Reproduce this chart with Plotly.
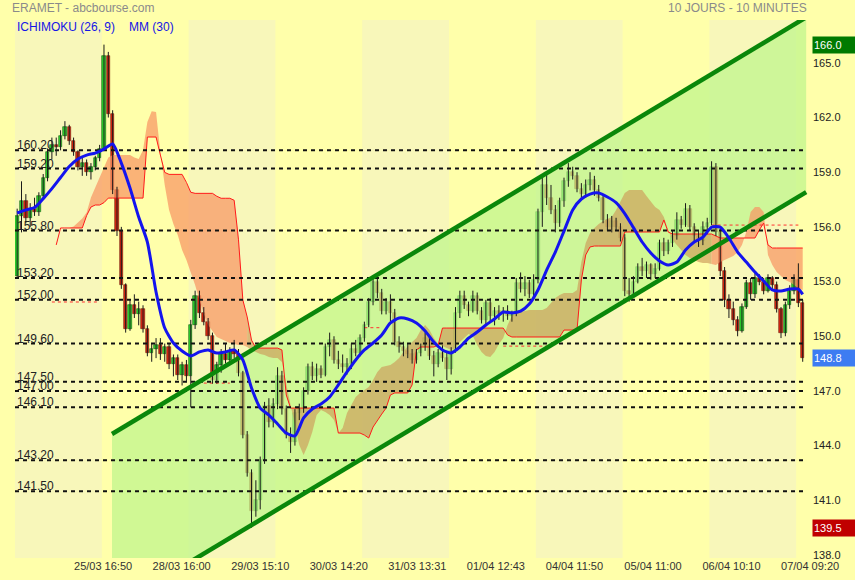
import plotly.graph_objects as go

# ---------------- data ----------------
x_tick_labels = ["25/03 16:50", "28/03 16:00", "29/03 15:10", "30/03 14:20", "31/03 13:31",
                 "01/04 12:43", "04/04 11:50", "05/04 11:00", "06/04 10:10", "07/04 09:20"]

opens = [153.3, 156.6, 157.4, 156.5, 157.0, 156.8, 157.7, 158.7, 160.1, 160.5,
         160.4, 161.0, 161.5, 160.7, 160.1, 159.3, 159.5, 159.0, 159.3, 159.8,
         160.3, 165.4, 162.2, 158.0, 155.8, 152.8, 150.4, 151.7, 151.2, 151.5,
         150.4, 149.1, 149.3, 149.5, 149.0, 149.4, 148.5, 148.8, 147.9, 148.4,
         147.8, 150.6, 152.2, 151.3, 150.8, 150.0, 147.6, 148.4, 149.0, 148.7,
         149.2, 149.0, 148.0, 144.6, 142.5, 140.4, 141.0, 143.2, 146.2, 145.3,
         146.3, 147.8, 146.0, 144.6, 144.2, 145.8, 146.0, 147.0, 148.3, 147.8,
         148.2, 147.9, 149.4, 149.8, 148.7, 148.5, 148.3, 148.5, 149.3, 149.1,
         149.9, 150.6, 151.9, 153.0, 152.4, 151.4, 151.9, 151.3, 149.7, 149.4,
         149.2, 149.0, 148.7, 149.1, 149.4, 149.9, 148.9, 148.5, 149.1, 148.8,
         148.2, 149.2, 151.3, 152.2, 151.7, 151.4, 152.2, 151.4, 150.9, 151.8,
         151.1, 151.4, 151.2, 151.4, 151.1, 151.3, 152.9, 152.6, 152.9, 152.3,
         153.1, 156.8, 158.3, 157.6, 156.9, 156.2, 157.4, 158.5, 159.0, 158.8,
         158.1, 157.8, 158.3, 158.6, 158.0, 157.6, 156.4, 156.0, 156.3, 156.0,
         155.4, 152.5, 152.3, 153.0, 153.8, 153.6, 153.9, 153.4, 153.7, 155.1,
         154.7, 155.1, 155.5, 156.4, 156.1, 157.0, 156.0, 155.5, 155.2, 156.0,
         156.2, 159.3, 155.7, 153.6, 152.0, 151.5, 150.9, 150.3, 151.6, 152.9,
         152.3, 153.2, 153.0, 152.5, 153.2, 152.8, 151.5, 150.2, 151.7, 152.5,
         153.1, 151.8]
highs = [157.0, 158.5, 157.8, 157.3, 157.6, 157.9, 158.9, 160.3, 160.9, 160.9,
         161.3, 161.8, 161.6, 160.9, 160.2, 159.8, 159.7, 159.5, 159.9, 160.5,
         166.0, 165.6, 162.4, 158.2, 156.0, 152.9, 152.0, 152.3, 151.9, 151.7,
         150.6, 149.6, 149.9, 149.9, 149.6, 149.6, 149.0, 149.0, 148.6, 148.7,
         150.9, 152.5, 152.5, 151.6, 151.0, 150.2, 148.6, 149.3, 149.6, 149.4,
         149.8, 149.3, 148.1, 144.8, 142.7, 142.1, 143.4, 146.4, 146.6, 146.6,
         148.3, 148.1, 146.2, 145.0, 146.0, 146.3, 147.2, 148.5, 148.6, 148.5,
         148.4, 149.6, 150.2, 150.0, 149.2, 149.0, 148.8, 149.6, 149.8, 150.1,
         150.8, 152.1, 153.3, 153.2, 152.6, 152.1, 152.3, 151.5, 150.0, 149.7,
         149.6, 149.3, 149.3, 149.6, 150.2, 150.0, 149.2, 149.3, 149.5, 149.1,
         149.4, 151.6, 152.5, 152.5, 151.9, 152.5, 152.4, 151.6, 152.0, 152.1,
         151.6, 151.7, 151.6, 151.7, 151.4, 153.2, 153.5, 153.3, 153.1, 153.4,
         157.0, 158.9, 159.0, 158.3, 157.2, 157.6, 158.7, 159.5, 159.3, 159.0,
         158.4, 158.6, 159.0, 158.8, 158.3, 157.8, 156.7, 156.6, 156.5, 156.2,
         155.6, 153.2, 153.3, 154.0, 154.3, 154.1, 154.0, 154.0, 155.3, 155.4,
         155.3, 155.8, 156.8, 156.6, 157.3, 157.2, 156.2, 155.8, 156.3, 156.5,
         159.6, 159.5, 155.9, 153.8, 152.3, 151.9, 151.1, 151.8, 153.1, 153.2,
         153.5, 153.4, 153.2, 153.4, 153.3, 153.0, 151.6, 151.9, 152.8, 153.4,
         154.0, 152.0]
lows = [153.2, 155.7, 156.2, 156.0, 156.6, 156.6, 157.5, 158.5, 159.7, 159.9,
        160.2, 160.8, 160.5, 159.9, 159.1, 158.8, 158.8, 158.6, 159.1, 159.6,
        160.2, 162.0, 157.8, 155.5, 152.6, 150.2, 150.3, 151.0, 150.6, 150.2,
        148.9, 148.6, 148.8, 148.7, 148.6, 148.2, 147.8, 147.6, 147.3, 147.5,
        146.1, 150.4, 151.0, 150.6, 149.8, 147.4, 147.4, 148.0, 148.5, 148.5,
        148.8, 147.8, 144.4, 142.3, 139.5, 140.1, 140.5, 143.0, 145.0, 145.0,
        146.0, 145.7, 144.4, 143.6, 144.0, 145.4, 145.8, 146.8, 147.6, 147.5,
        147.7, 147.8, 148.9, 148.5, 148.2, 148.0, 147.9, 148.2, 148.9, 148.9,
        149.7, 150.5, 151.7, 152.1, 151.2, 151.2, 150.8, 149.5, 149.1, 148.9,
        148.8, 148.5, 148.5, 148.9, 149.2, 148.7, 147.8, 148.3, 148.6, 147.6,
        147.9, 149.1, 151.0, 151.5, 151.1, 151.3, 151.2, 150.7, 150.6, 150.8,
        150.6, 150.9, 150.8, 150.9, 150.8, 151.1, 152.4, 152.2, 152.1, 152.1,
        152.9, 156.0, 157.2, 156.7, 155.7, 156.0, 157.1, 158.2, 158.6, 157.9,
        157.6, 157.6, 158.0, 157.7, 157.4, 156.2, 155.8, 155.7, 155.8, 155.2,
        152.2, 151.9, 152.1, 152.9, 153.3, 153.2, 153.1, 153.2, 153.6, 154.4,
        154.5, 154.9, 155.3, 155.9, 156.0, 155.8, 155.2, 154.9, 155.0, 155.6,
        156.1, 155.5, 153.3, 151.6, 151.0, 150.6, 150.0, 150.2, 151.5, 152.0,
        152.1, 152.8, 152.3, 152.4, 152.6, 151.3, 149.9, 150.0, 151.5, 152.3,
        151.6, 148.6]
closes = [156.6, 157.4, 156.5, 157.0, 156.8, 157.7, 158.7, 160.1, 160.5, 160.4,
          161.0, 161.5, 160.7, 160.1, 159.3, 159.5, 159.0, 159.3, 159.8, 160.3,
          165.4, 162.2, 158.0, 155.8, 152.8, 150.4, 151.7, 151.2, 151.5, 150.4,
          149.1, 149.3, 149.5, 149.0, 149.4, 148.5, 148.8, 147.9, 148.4, 147.8,
          150.6, 152.2, 151.3, 150.8, 150.0, 147.6, 148.4, 149.0, 148.7, 149.2,
          149.0, 148.0, 144.6, 142.5, 140.4, 141.0, 143.2, 146.2, 145.3, 146.3,
          147.8, 146.0, 144.6, 144.2, 145.8, 146.0, 147.0, 148.3, 147.8, 148.2,
          147.9, 149.4, 149.8, 148.7, 148.5, 148.3, 148.5, 149.3, 149.1, 149.9,
          150.6, 151.9, 153.0, 152.4, 151.4, 151.9, 151.3, 149.7, 149.4, 149.2,
          149.0, 148.7, 149.1, 149.4, 149.9, 148.9, 148.5, 149.1, 148.8, 148.2,
          149.2, 151.3, 152.2, 151.7, 151.4, 152.2, 151.4, 150.9, 151.8, 151.1,
          151.4, 151.2, 151.4, 151.1, 151.3, 152.9, 152.6, 152.9, 152.3, 153.1,
          156.8, 158.3, 157.6, 156.9, 156.2, 157.4, 158.5, 159.0, 158.8, 158.1,
          157.8, 158.3, 158.6, 158.0, 157.6, 156.4, 156.0, 156.3, 156.0, 155.4,
          152.5, 152.3, 153.0, 153.8, 153.6, 153.9, 153.4, 153.7, 155.1, 154.7,
          155.1, 155.5, 156.4, 156.1, 157.0, 156.0, 155.5, 155.2, 156.0, 156.2,
          159.3, 155.7, 153.6, 152.0, 151.5, 150.9, 150.3, 151.6, 152.9, 152.3,
          153.2, 153.0, 152.5, 153.2, 152.8, 151.5, 150.2, 151.7, 152.5, 153.1,
          151.8, 148.8]

# moving average MM(30), read every second candle (plus the last one)
ma_values = [156.76, 156.93, 157.06, 157.55, 158.10, 158.71, 159.31, 159.72, 159.94, 160.05,
             160.27, 160.55, 159.50, 158.13, 156.54, 155.17, 152.43, 150.45, 149.63, 149.19,
             148.92, 149.14, 149.25, 149.08, 149.14, 149.25, 148.70, 147.16, 146.06, 145.68,
             145.19, 144.69, 144.53, 145.52, 146.01, 146.28, 146.67, 147.33, 148.04, 148.70,
             149.25, 149.63, 150.07, 150.73, 151.00, 150.95, 150.73, 150.29, 149.68, 149.25,
             149.08, 149.41, 149.90, 150.23, 150.62, 150.95, 151.33, 151.28, 151.38, 151.77,
             152.54, 153.63, 154.62, 155.77, 156.93, 157.53, 157.80, 157.86, 157.64, 157.33,
             156.73, 155.96, 155.17, 154.57, 154.13, 153.91, 154.07, 154.73, 155.17, 155.44,
             155.99, 155.99, 155.39, 154.62, 154.07, 153.52, 153.03, 152.54, 152.48, 152.59,
             152.59, 152.30]

# Ichimoku cloud spans, from candle 9 onward
span_start = 9
span_a = [155.01, 155.94, 155.94, 155.94, 156.02, 156.27, 156.46, 156.79, 157.61, 158.16,
          158.71, 159.20, 159.81, 159.94, 159.94, 159.94, 159.94, 159.94, 159.81, 159.72,
          160.22, 161.75, 162.35, 162.30, 160.05, 158.30, 156.93, 156.16, 155.55, 154.73,
          154.18, 153.52, 152.81, 151.99, 151.22, 150.62, 150.29, 149.96, 149.85, 149.74,
          149.63, 149.57, 149.52, 149.52, 149.41, 149.25, 149.14, 149.03, 148.97, 148.86,
          148.81, 148.81, 148.59, 147.33, 146.23, 145.13, 144.03, 143.49, 144.03, 144.75,
          145.68, 145.95, 145.84, 145.68, 145.41, 144.69, 144.97, 145.79, 146.23, 146.67,
          146.89, 147.05, 147.22, 147.60, 148.04, 148.31, 148.37, 148.42, 148.59, 148.81,
          149.14, 149.46, 149.68, 149.90, 150.34, 150.62, 150.34, 149.90, 149.57, 149.46,
          149.35, 149.25, 149.35, 149.68, 149.90, 150.12, 150.01, 149.52, 149.14, 148.92,
          148.86, 149.14, 149.57, 149.90, 150.62, 151.11, 151.27, 151.33, 151.38, 151.44,
          151.44, 151.44, 151.44, 151.55, 151.82, 152.10, 152.26, 152.37, 152.37, 152.37,
          152.54, 154.07, 155.11, 155.66, 155.94, 156.16, 156.32, 156.43, 156.54, 156.93,
          157.36, 157.86, 158.02, 158.02, 158.02, 158.02, 157.69, 157.36, 157.09, 156.93,
          156.54, 155.83, 155.28, 155.01, 154.73, 154.46, 154.29, 154.18, 154.07, 154.02,
          154.02, 153.96, 153.91, 154.07, 154.18, 154.29, 154.40, 154.62, 155.01, 155.72,
          156.82, 157.09, 157.09, 156.82, 154.46, 153.91, 153.52, 153.30, 153.09, 152.98,
          152.81, 152.65, 152.54]
span_b = [155.01, 155.94, 155.94, 155.94, 155.94, 155.94, 155.94, 156.62, 157.09, 157.20,
          157.20, 157.33, 157.58, 157.58, 157.58, 157.58, 157.58, 157.58, 157.58, 157.58,
          157.58, 160.93, 160.93, 160.93, 159.94, 158.99, 158.88, 158.88, 158.88, 158.88,
          158.44, 157.90, 157.84, 157.84, 157.84, 157.84, 157.84, 157.68, 157.57, 157.57,
          157.57, 157.46, 155.29, 151.99, 151.06, 149.79, 149.35, 149.35, 149.35, 149.35,
          149.35, 149.35, 149.25, 146.78, 146.06, 146.06, 146.06, 146.06, 146.06, 146.06,
          146.06, 146.06, 146.06, 146.06, 146.06, 144.69, 144.69, 144.69, 144.69, 144.69,
          144.69, 144.58, 144.42, 145.02, 145.41, 145.73, 146.06, 146.78, 146.89, 146.89,
          146.89, 146.89, 147.33, 149.25, 149.41, 149.41, 149.41, 149.41, 149.52, 150.45,
          150.45, 150.45, 150.45, 150.45, 150.45, 150.45, 150.45, 150.45, 150.45, 150.45,
          150.45, 150.45, 150.45, 150.45, 150.07, 149.96, 149.96, 149.96, 149.96, 149.96,
          149.96, 149.96, 149.96, 149.96, 149.96, 149.96, 149.96, 150.34, 150.34, 150.34,
          150.34, 153.09, 154.46, 154.90, 154.95, 154.95, 154.95, 154.95, 154.95, 154.95,
          154.95, 155.72, 155.72, 155.72, 155.72, 155.72, 155.72, 155.72, 155.72, 155.72,
          156.38, 155.72, 155.61, 155.61, 155.61, 155.61, 155.61, 155.61, 155.61, 155.61,
          155.61, 155.61, 155.50, 155.39, 155.39, 155.39, 155.39, 155.39, 155.39, 155.39,
          155.39, 155.39, 155.83, 156.21, 155.01, 154.84, 154.84, 154.84, 154.84, 154.84,
          154.84, 154.84, 154.84]
cloud_seg_start = [9, 53, 160]
cloud_seg_end = [53, 160, 181]
cloud_seg_kind = ["bear", "bull", "bear"]

# thin red dashed kijun levels
kijun_levels = [151.88, 147.43, 150.47, 149.46, 156.10]
kijun_from = [8, 43, 80, 112, 160]
kijun_to = [19, 49, 84, 123, 180]

# horizontal support / resistance levels
levels = [160.20, 159.20, 155.80, 153.20, 152.00, 149.60, 147.50, 147.00, 146.10, 143.20, 141.50]

# trend channel anchors (candle index, price)
channel_x = [21.85, 181.8]
channel_upper = [144.64, 167.50]
channel_lower = [135.05, 157.91]

y_ticks = [138.0, 141.0, 144.0, 147.0, 150.0, 153.0, 156.0, 159.0, 162.0, 165.0]
period_high = 166.0
period_low = 139.5
last_price = closes[-1]

# ---------------- layout constants ----------------
CANDLES_PER_DAY = 20
N_DAYS_SHOWN = 10
X_MIN, X_MAX = -0.5, 183.14
PLOT_END = 181.8
Y_MIN, Y_MAX = 137.835, 167.35
TICK_START, TICK_STEP = 19.8, 18.1

PAPER = "#ffffaa"
BAND = "#f8f7ba"
SALMON = "rgba(248,150,100,0.72)"
TAN = "rgba(205,155,90,0.66)"
FONT = "Liberation Sans, Arial, sans-serif"
UP_FILL, UP_EDGE = "#2fd62f", "#0d5a0d"
DN_FILL, DN_EDGE = "#dc2812", "#6a1608"

n = len(closes)
assert len(opens) == n and len(highs) == n and len(lows) == n
assert len(span_a) == len(span_b) == n - span_start
idx = list(range(n))
ma_idx = list(range(0, n - 1, 2)) + [n - 1]
assert len(ma_idx) == len(ma_values)
span_idx = list(range(span_start, n))

fig = go.Figure()

# channel fill
fig.add_trace(go.Scatter(
    x=[channel_x[0], channel_x[1], channel_x[1], channel_x[0]],
    y=[channel_upper[0], channel_upper[1], channel_lower[1], channel_lower[0]],
    fill="toself", fillcolor="rgba(190,245,140,0.72)", line=dict(width=0),
    mode="lines", hoverinfo="skip", showlegend=False))

# ichimoku cloud
for s, e, kind in zip(cloud_seg_start, cloud_seg_end, cloud_seg_kind):
    xs = [i for i in span_idx if s <= i <= e]
    a = [span_a[i - span_start] for i in xs]
    b = [span_b[i - span_start] for i in xs]
    fig.add_trace(go.Scatter(
        x=xs + xs[::-1], y=a + b[::-1], fill="toself",
        fillcolor=SALMON if kind == "bear" else TAN,
        line=dict(width=0), mode="lines", hoverinfo="skip", showlegend=False))

fig.add_trace(go.Scatter(x=span_idx, y=span_b, mode="lines",
                         line=dict(color="#ff1a1a", width=1), hoverinfo="skip", showlegend=False))

# kijun dashed levels
for lv, a0, a1 in zip(kijun_levels, kijun_from, kijun_to):
    fig.add_trace(go.Scatter(x=[a0, a1], y=[lv, lv], mode="lines",
                             line=dict(color="#ff3030", width=1, dash="3px,3px"),
                             hoverinfo="skip", showlegend=False))

# support/resistance dashed lines
for lv in levels:
    fig.add_trace(go.Scatter(x=[X_MIN, PLOT_END], y=[lv, lv], mode="lines",
                             line=dict(color="#111111", width=2, dash="4px,4px"),
                             hoverinfo="skip", showlegend=False))

# candles: wicks then bodies
wx, wy = [], []
for i in idx:
    wx += [i, i, None]
    wy += [lows[i], highs[i], None]
fig.add_trace(go.Scatter(x=wx, y=wy, mode="lines", line=dict(color="#1a1a1a", width=1),
                         hoverinfo="skip", showlegend=False, connectgaps=False))

up = [c >= o for o, c in zip(opens, closes)]
fig.add_trace(go.Bar(
    x=idx,
    y=[max(abs(c - o), 0.06) for o, c in zip(opens, closes)],
    base=[min(o, c) for o, c in zip(opens, closes)],
    width=0.78,
    marker=dict(color=[UP_FILL if u else DN_FILL for u in up],
                line=dict(color=[UP_EDGE if u else DN_EDGE for u in up], width=0.6)),
    hoverinfo="skip", showlegend=False))

# channel lines
for yy in (channel_upper, channel_lower):
    fig.add_trace(go.Scatter(x=channel_x, y=yy, mode="lines",
                             line=dict(color="#0a870a", width=4.5),
                             hoverinfo="skip", showlegend=False))

# moving average
fig.add_trace(go.Scatter(x=ma_idx, y=ma_values, mode="lines",
                         line=dict(color="#1414ee", width=3, shape="spline", smoothing=0.6),
                         hoverinfo="skip", showlegend=False))

# day bands
shapes = []
for d in range(0, N_DAYS_SHOWN, 2):
    x0 = d * CANDLES_PER_DAY - 0.5
    x1 = min((d + 1) * CANDLES_PER_DAY - 0.5, PLOT_END)
    shapes.append(dict(type="rect", xref="x", yref="paper", x0=x0, x1=x1, y0=0, y1=1,
                       fillcolor=BAND, line=dict(width=0), layer="below"))

annotations = []
for lv in levels:
    annotations.append(dict(x=X_MIN, y=lv, xref="x", yref="y", text=f"{lv:.2f}",
                            showarrow=False, xanchor="left", yanchor="bottom",
                            xshift=0, yshift=-4,
                            font=dict(family=FONT, size=12, color="#222222")))

for val, col in ((period_high, "#007a00"), (last_price, "#3d7cf2"), (period_low, "#c00000")):
    annotations.append(dict(x=1, y=val, xref="paper", yref="y", text=f"{val:.1f}",
                            showarrow=False, xanchor="left", yanchor="middle",
                            align="left", width=40, height=14, borderpad=1,
                            bgcolor=col, font=dict(family=FONT, size=11, color="white")))

plot_w = 855 - 15 - 43
plot_h = 580 - 20 - 22
annotations += [
    dict(x=-5 / plot_w, y=1 + 12 / plot_h, xref="paper", yref="paper",
         text="ERAMET - abcbourse.com", showarrow=False, xanchor="left", yanchor="middle",
         font=dict(family=FONT, size=12, color="#8a8a8a")),
    dict(x=(809 - 15) / plot_w, y=1 + 12 / plot_h, xref="paper", yref="paper",
         text="10 JOURS - 10 MINUTES", showarrow=False, xanchor="right", yanchor="middle",
         font=dict(family=FONT, size=12, color="#8a8a8a")),
    dict(x=0, y=1 - 7 / plot_h, xref="paper", yref="paper",
         text="ICHIMOKU (26, 9)", showarrow=False, xanchor="left", yanchor="middle",
         font=dict(family=FONT, size=12, color="#1414e6")),
    dict(x=(127 - 15) / plot_w, y=1 - 7 / plot_h, xref="paper", yref="paper",
         text="MM (30)", showarrow=False, xanchor="left", yanchor="middle",
         font=dict(family=FONT, size=12, color="#1414e6")),
]

tick_vals = [TICK_START + k * TICK_STEP for k in range(len(x_tick_labels))]

fig.update_layout(
    width=855, height=580,
    margin=dict(l=15, r=43, t=20, b=22),
    paper_bgcolor=PAPER, plot_bgcolor=PAPER,
    shapes=shapes, annotations=annotations,
    hovermode=False, showlegend=False, barmode="overlay", bargap=0,
    xaxis=dict(range=[X_MIN, X_MAX], showgrid=False, zeroline=False, showline=False,
               tickvals=tick_vals, ticktext=x_tick_labels, ticks="",
               tickfont=dict(family=FONT, size=11, color="#333333"),
               automargin=False, fixedrange=True),
    yaxis=dict(range=[Y_MIN, Y_MAX], side="right", showgrid=False, zeroline=False,
               showline=False, tickvals=y_ticks, ticktext=[f"{v:.1f}" for v in y_ticks],
               ticks="", tickfont=dict(family=FONT, size=11, color="#222222"),
               automargin=False, fixedrange=True),
)

fig.write_html("out.html", config={"displayModeBar": False},
               post_script="document.body.style.margin='0px';")
